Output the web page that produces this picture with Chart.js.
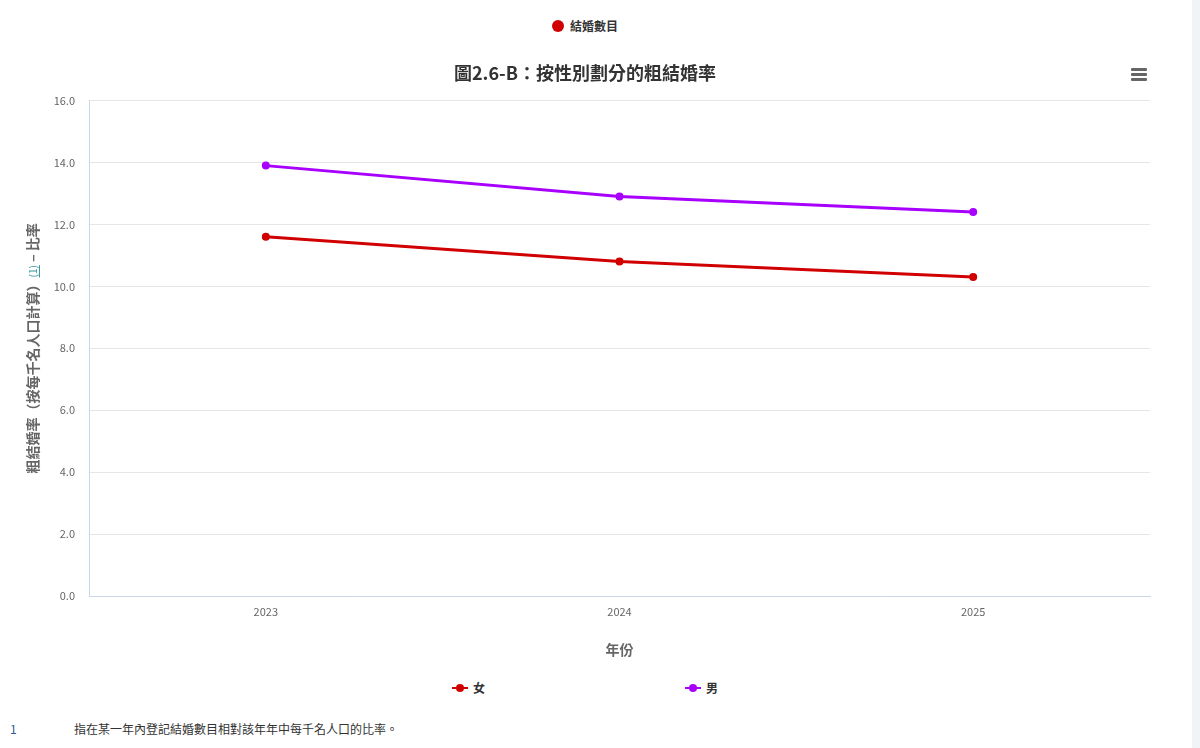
<!DOCTYPE html>
<html>
<head>
<meta charset="utf-8">
<script src="https://cdn.jsdelivr.net/npm/chart.js@4/dist/chart.umd.min.js"></script>
<style>
  body { margin: 0; background: #fff; font-family: "Noto Sans CJK TC", "Noto Sans", sans-serif; }
  #page { position: relative; width: 1200px; height: 748px; overflow: hidden; }
  #wrap { position: absolute; left: 0; top: 0; width: 1170px; height: 672px; }
  #topLegend { position: absolute; left: 0; width: 1170px; top: 17px; text-align: center; font-size: 12px; font-weight: bold; color: #333; }
  #topLegend .dot { display: inline-block; width: 12px; height: 12px; border-radius: 50%; background: #d10000; vertical-align: -1px; margin-right: 6px; }
  #menu { position: absolute; left: 1131px; top: 68px; width: 16px; }
  #menu div { height: 2.5px; background: #666; margin-bottom: 2.5px; border-radius: 1px; }
  #legend { position: absolute; left: 0; width: 1170px; top: 679px; text-align: center; font-size: 12px; font-weight: bold; color: #333; }
  .item { display: inline-block; position: relative; padding-left: 21px; margin: 0 100px; }
  .item .ln { position: absolute; left: 0; top: 8px; width: 16px; height: 2px; }
  .item .pt { position: absolute; left: 4px; top: 5px; width: 8px; height: 8px; border-radius: 50%; }
  #note { position: absolute; left: 10px; top: 720px; font-size: 12px; color: #333; }
  #note .num { color: #2c5a8a; display: inline-block; width: 64px; }
  #bar { position: absolute; left: 1192px; top: 0; width: 8px; height: 748px; background: #f1f3f6; }
</style>
</head>
<body>
<div id="page">
  <div id="topLegend"><span class="dot"></span>結婚數目</div>
  <div id="wrap"><canvas id="rateChart"></canvas></div>
  <div id="menu"><div></div><div></div><div></div></div>
  <div id="legend"></div>
  <div id="note"><span class="num">1</span>指在某一年內登記結婚數目相對該年年中每千名人口的比率。</div>
  <div id="bar"></div>
</div>
<script>
// chart data
const years = ['2023', '2024', '2025'];
const femaleRate = [11.6, 10.8, 10.3];
const maleRate = [13.9, 12.9, 12.4];
const seriesNames = ['女', '男'];
const seriesColors = ['#d10000', '#a800ff'];

const chartTitle = '圖2.6-B：按性別劃分的粗結婚率';
const xTitle = '年份';
const yTitleParts = [
    { text: '粗結婚率（按每千名人口計算）', color: '#666666', small: false },
    { text: '(1)', color: '#3a9aa0', small: true },
    { text: ' – 比率', color: '#666666', small: false },
];

const FONT = '"Noto Sans CJK TC", "Noto Sans", sans-serif';

// rotated y axis title with a coloured footnote reference
const yTitlePlugin = {
    id: 'yTitle',
    afterDraw(chart) {
        const ctx = chart.ctx;
        const area = chart.chartArea;
        const big = 'bold 14px ' + FONT;
        const small = '10px ' + FONT;
        let total = 0;
        yTitleParts.forEach(p => {
            ctx.font = p.small ? small : big;
            total += ctx.measureText(p.text).width;
        });
        ctx.save();
        ctx.translate(33, (area.top + area.bottom) / 2);
        ctx.rotate(-Math.PI / 2);
        ctx.textBaseline = 'middle';
        let x = -total / 2;
        yTitleParts.forEach(p => {
            ctx.font = p.small ? small : big;
            ctx.fillStyle = p.color;
            const w = ctx.measureText(p.text).width;
            ctx.fillText(p.text, x, 0);
            if (p.small) {
                ctx.fillRect(x, 6, w, 1);
            }
            x += w;
        });
        ctx.restore();
    }
};

const ctx = document.getElementById('rateChart').getContext('2d');
const rateChart = new Chart(ctx, {
    type: 'line',
    data: {
        labels: years,
        datasets: [
            {
                label: seriesNames[0],
                data: femaleRate,
                borderColor: seriesColors[0],
                backgroundColor: seriesColors[0],
                borderWidth: 3,
                pointRadius: 4,
                pointBorderWidth: 0,
                pointHoverRadius: 5,
                fill: false,
                tension: 0,
            },
            {
                label: seriesNames[1],
                data: maleRate,
                borderColor: seriesColors[1],
                backgroundColor: seriesColors[1],
                borderWidth: 3,
                pointRadius: 4,
                pointBorderWidth: 0,
                pointHoverRadius: 5,
                fill: false,
                tension: 0,
            },
        ],
    },
    options: {
        responsive: true,
        maintainAspectRatio: false,
        animation: false,
        layout: {
            padding: { top: 62, left: 20, right: 20, bottom: 0 }
        },
        plugins: {
            legend: { display: false },
            title: {
                display: true,
                text: chartTitle,
                color: '#333333',
                font: { family: FONT, size: 18, weight: 'bold' },
                padding: { top: 0, bottom: 17 },
            },
            tooltip: { enabled: true },
        },
        scales: {
            x: {
                offset: true,
                grid: { display: false, drawTicks: false },
                border: { display: true, color: '#ccd6eb', width: 1 },
                ticks: {
                    color: '#666666',
                    padding: 9,
                    font: { family: FONT, size: 11 },
                },
                title: {
                    display: true,
                    text: xTitle,
                    color: '#666666',
                    font: { family: FONT, size: 14, weight: 'bold' },
                    padding: { top: 14, bottom: 14 },
                },
            },
            y: {
                min: 0,
                max: 16,
                grid: { color: '#e6e6e6', drawTicks: false },
                border: { display: true, color: '#ccd6eb', width: 1 },
                ticks: {
                    stepSize: 2,
                    color: '#666666',
                    padding: 14,
                    font: { family: FONT, size: 11 },
                    callback: v => v.toFixed(1),
                },
                // leave room on the left for the drawn axis title
                afterFit: scale => { scale.width = 69; },
            },
        },
    },
    plugins: [yTitlePlugin],
});

// html legend under the chart
const legendBox = document.getElementById('legend');
seriesNames.forEach((name, i) => {
    const item = document.createElement('span');
    item.className = 'item';
    item.innerHTML = '<span class="ln" style="background:' + seriesColors[i] + '"></span>' +
        '<span class="pt" style="background:' + seriesColors[i] + '"></span>' + name;
    legendBox.appendChild(item);
});
</script>
</body>
</html>
